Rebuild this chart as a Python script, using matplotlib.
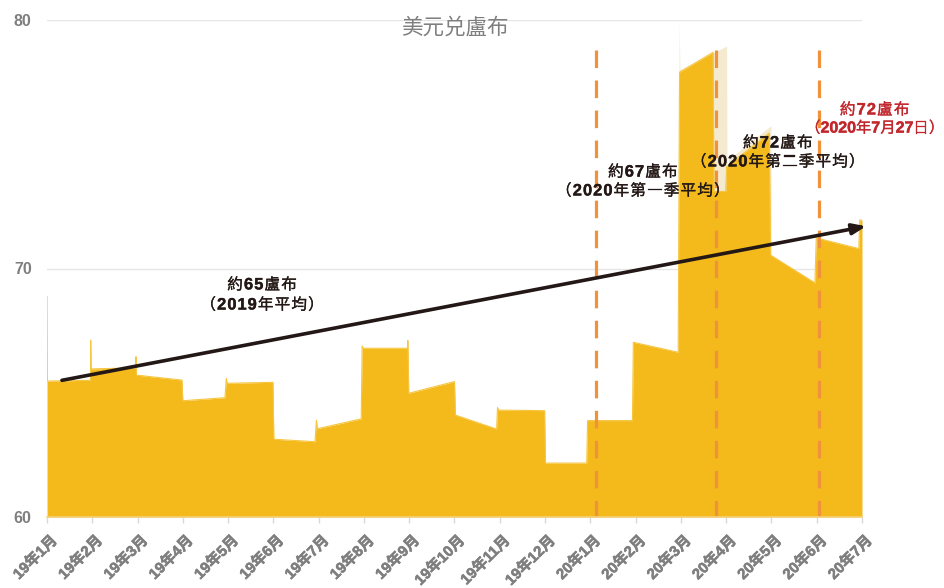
import matplotlib
matplotlib.use("Agg")
import matplotlib.pyplot as plt
import matplotlib.patheffects as pe
from matplotlib.transforms import ScaledTranslation
import numpy as np

plt.rcParams['font.family'] = ['Noto Sans CJK TC', 'DejaVu Sans']

# ---------------- data ----------------
x_labels = ["19年1月", "19年2月", "19年3月", "19年4月", "19年5月", "19年6月",
            "19年7月", "19年8月", "19年9月", "19年10月", "19年11月", "19年12月",
            "20年1月", "20年2月", "20年3月", "20年4月", "20年5月", "20年6月", "20年7月"]
y_ticks = [60, 70, 80]

# month index (0 = 19年1月) and USD/RUB rate
rate_x = [0.0, 0.005, 0.96, 0.965, 0.975, 1.96, 1.966, 1.975, 2.98, 3.0,
          3.93, 3.96, 3.98, 4.99, 5.01, 5.92, 5.95, 5.97, 6.94, 6.96, 6.98,
          7.96, 7.97, 7.99, 9.0, 9.02, 9.93, 9.95, 9.97, 10.99, 11.01,
          11.92, 11.94, 12.93, 12.95, 13.94, 13.97, 14.71, 14.73, 14.99, 15.01,
          15.95, 15.98, 16.96, 16.99, 17.93, 17.95, 18.0]
rate_y = [68.87, 65.47, 65.5, 67.12, 65.96, 66.0, 66.45, 65.71, 65.51, 64.68,
          64.8, 65.58, 65.38, 65.42, 63.13, 63.03, 63.9, 63.55, 63.95, 66.88, 66.79,
          66.79, 67.1, 64.98, 65.45, 64.1, 63.54, 64.4, 64.3, 64.28, 62.17,
          62.17, 63.88, 63.88, 67.03, 66.63, 77.9, 78.7, 73.1, 73.1, 74.1,
          75.45, 70.54, 69.42, 71.23, 70.8, 71.95, 71.95]

# faint (lighter) duplicate outline around 20年3月-5月
light_x = [13.94, 13.96, 13.98, 15.01, 15.02, 15.05, 15.99, 16.0]
light_y = [60.0, 80.0, 78.0, 78.95, 73.1, 74.4, 75.75, 60.0]

# trend arrow (start/end)
trend_x = [0.33, 18.09]
trend_y = [65.5, 71.7]

# quarter / date markers
marker_x = [12.12, 14.78, 17.05]

YELLOW = '#F4BA1C'
LIGHT = '#F4EAD0'
ORANGE = '#F0913C'
GRAY = '#7F7F7F'
DARK = '#231815'
RED = '#C1272D'
LAT = ['Liberation Sans', 'Noto Sans CJK TC']
CJK = ['Noto Sans CJK TC', 'DejaVu Sans']

fig = plt.figure(figsize=(9.45, 5.88), dpi=100)
ax = fig.add_axes([47/945, 1-517/588, (862-47)/945, (517-20)/588])
renderer = fig.canvas.get_renderer()

ax.set_xlim(0, 18)
ax.set_ylim(60, 80)

# grid
for gy in y_ticks[1:]:
    ax.axhline(gy, color='#E6E6E6', lw=1, zorder=0)

ax.fill_between(light_x, light_y, 60, color=LIGHT, lw=0, zorder=1)
ax.fill_between(rate_x, rate_y, 60, color=YELLOW, lw=0, zorder=2)
ax.plot(rate_x, rate_y, color='#F6C63F', lw=0.8, zorder=2.5)

# dashed markers
for mx in marker_x:
    ax.plot([mx, mx], [78.8, 60], color=ORANGE, lw=2.3,
            linestyle=(0, (5.5, 3.9)), zorder=3, dash_capstyle='butt')

# trend arrow
ax.annotate('', xy=(trend_x[1], trend_y[1]), xytext=(trend_x[0], trend_y[0]),
            arrowprops=dict(arrowstyle='-|>,head_length=0.8,head_width=0.32',
                            lw=2.6, color=DARK, shrinkA=0, shrinkB=0),
            zorder=4, annotation_clip=False)

# axes styling
for s in ['top', 'right', 'left']:
    ax.spines[s].set_visible(False)
ax.spines['bottom'].set_color('#F5D27A')
ax.spines['bottom'].set_linewidth(1.2)
ax.spines['bottom'].set_zorder(5)

ax.set_yticks(y_ticks)
ax.set_yticklabels([str(v) for v in y_ticks],
                   fontdict=dict(family=LAT, weight='bold', size=11.5, color=GRAY))
ax.tick_params(axis='y', length=0, pad=11)

ax.set_xticks(range(len(x_labels)))
ax.set_xticklabels(x_labels, rotation=45, ha='right', va='center',
                   rotation_mode='anchor',
                   fontdict=dict(family=LAT, weight='bold', size=10.8, color=GRAY))
ax.tick_params(axis='x', length=4, color='#D9D9D9', width=1, pad=2)
for lab in ax.get_xticklabels():
    lab.set_transform(lab.get_transform() + ScaledTranslation(8/100, -13/100, fig.dpi_scale_trans))
    lab.set_path_effects([pe.withStroke(linewidth=0.4, foreground=GRAY)])

# title
ax.text(0.5, 0.985, '美元兑盧布', transform=ax.transAxes, ha='center', va='center',
        fontsize=15.5, color=GRAY, zorder=6, family=CJK)


def mixed_line(xc, yc, segments, color, size=11.3, track=1.0):
    """Draw text centered at data (xc, yc); digits bold, CJK regular, with tracking."""
    chars = []
    for s, bold in segments:
        for ch in s:
            chars.append((ch, bold))
    widths = []
    objs = []
    for ch, bold in chars:
        t = ax.text(xc, yc, ch, fontsize=size + (0.6 if bold else 0),
                    fontweight='bold' if bold else 'medium',
                    family=LAT if bold else CJK,
                    color=color, ha='left', va='center', zorder=7)
        t.set_path_effects([pe.withStroke(linewidth=0.25 if bold else 0.2, foreground=color)])
        bb = t.get_window_extent(renderer)
        widths.append(bb.width)
        objs.append(t)
    total = sum(widths) + track * (len(chars) - 1)
    cur = -total / 2
    for t, w in zip(objs, widths):
        t.set_transform(ax.transData + ScaledTranslation(cur / 100, 0, fig.dpi_scale_trans))
        cur += w + track


mixed_line(4.75, 69.34, [('約', False), ('65', True), ('盧布', False)], DARK)
mixed_line(4.75, 68.53, [('（', False), ('2019', True), ('年平均）', False)], DARK)

mixed_line(13.16, 73.88, [('約', False), ('67', True), ('盧布', False)], DARK)
mixed_line(13.16, 73.12, [('（', False), ('2020', True), ('年第一季平均）', False)], DARK)

mixed_line(16.14, 75.05, [('約', False), ('72', True), ('盧布', False)], DARK)
mixed_line(16.14, 74.29, [('（', False), ('2020', True), ('年第二季平均）', False)], DARK)

mixed_line(18.28, 76.38, [('約', False), ('72', True), ('盧布', False)], RED)
mixed_line(18.28, 75.65, [('（', False), ('2020', True), ('年', False), ('7', True),
                          ('月', False), ('27', True), ('日）', False)], RED, size=11, track=0.0)

fig.savefig('out.png', dpi=100)
